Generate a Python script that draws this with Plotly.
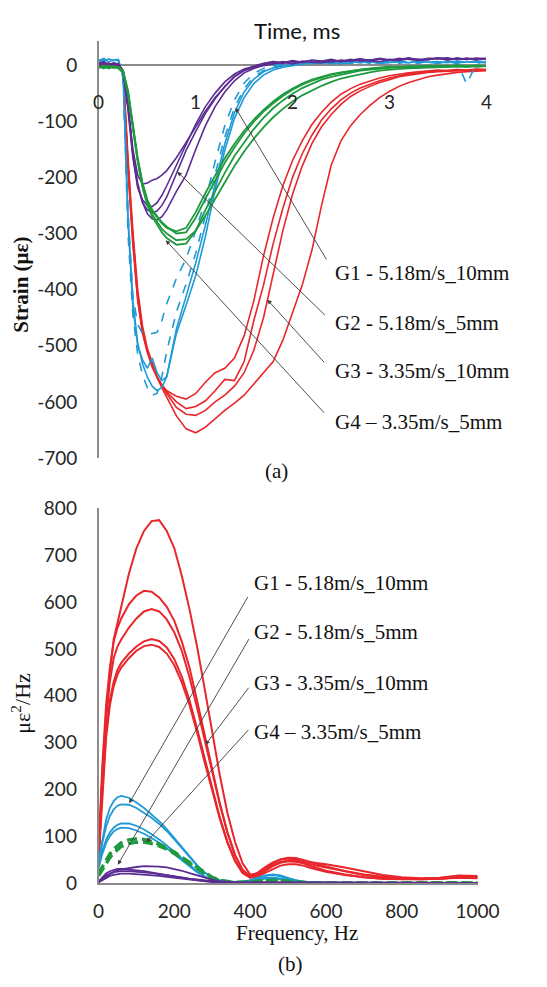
import plotly.graph_objects as go

# ---------------- (a) strain histories ----------------
time_ms = [0, 0.05, 0.1, 0.15, 0.2, 0.25, 0.3, 0.35, 0.4, 0.45, 0.5, 0.55, 0.6, 0.65, 0.7,
           0.8, 0.9, 1.0, 1.1, 1.2, 1.3, 1.4, 1.5, 1.6, 1.7, 1.8, 1.9, 2.0, 2.1, 2.2, 2.3,
           2.4, 2.5, 2.6, 2.7, 2.8, 2.9, 3.0, 3.1, 3.2, 3.3, 3.4, 3.5, 3.6, 3.7, 3.8, 3.9, 4.0]

# G1 - 5.18 m/s, 10 mm (blue; first two runs dashed)
g1_strain = [
    [8, 12, 6, 10, 9, -20, -260, -410, -462, -478, -480, -478, -476, -455, -425, -380, -345, -295, -240, -172, -108, -62, -32, -15, -6, -1, 2, 4, 1, 5, 3, 6, 2, 5, 7, 3, 6, 4, 8, 5, 3, 7, 4, 6, 3, 5, 7, 4],
    [6, 10, 8, 12, 7, -25, -300, -445, -515, -552, -575, -588, -585, -555, -510, -440, -390, -335, -268, -195, -128, -76, -42, -21, -10, -4, 0, 3, 5, 2, 6, 4, 7, 3, 5, 8, 4, 6, 3, 7, 5, 8, 4, 6, 5, -34, 3, 6],
    [9, 7, 11, 8, 10, -22, -280, -430, -500, -525, -540, -522, -548, -562, -555, -470, -412, -352, -285, -210, -140, -85, -48, -25, -12, -5, -1, 2, 4, 3, 6, 2, 5, 7, 4, 6, 3, 8, 5, 4, 7, 5, 6, 4, 7, 5, 6, 4],
    [7, 10, 6, 9, 8, -18, -270, -420, -495, -532, -556, -572, -580, -574, -555, -478, -428, -375, -305, -222, -152, -95, -58, -33, -18, -9, -4, -1, 2, 4, 3, 5, 2, 6, 4, 7, 3, 5, 6, 4, 7, 5, 3, 6, 4, 5, 6, 4],
]
g1_dash = ["dash", "dash", "solid", "solid"]

# G2 - 5.18 m/s, 5 mm (purple)
g2_strain = [
    [3, 6, 1, 4, 2, -10, -70, -150, -196, -212, -210, -205, -202, -196, -188, -165, -138, -110, -82, -58, -38, -20, -9, -2, 3, 6, 4, 8, 5, 9, 7, 10, 6, 9, 11, 8, 12, 9, 10, 13, 8, 11, 12, 9, 13, 10, 12, 11],
    [0, 4, -2, 3, 1, -12, -75, -160, -215, -245, -258, -263, -260, -250, -235, -192, -152, -118, -86, -60, -38, -21, -10, -4, 1, 3, 6, 2, 7, 5, 4, 8, 6, 10, 7, 9, 11, 8, 12, 10, 9, 12, 11, 13, 10, 12, 11, 12],
    [2, -1, 3, 0, 2, -11, -72, -155, -210, -245, -265, -274, -276, -270, -258, -225, -196, -150, -108, -74, -48, -28, -14, -6, -1, 2, 5, 3, 6, 8, 5, 9, 7, 8, 10, 7, 11, 9, 8, 12, 10, 9, 13, 11, 10, 12, 9, 11],
    [1, 3, 0, 2, -1, -12, -80, -165, -218, -240, -250, -252, -245, -232, -215, -178, -140, -105, -74, -50, -30, -16, -7, -2, 2, 5, 3, 7, 4, 8, 6, 5, 9, 7, 10, 8, 6, 10, 9, 11, 8, 10, 12, 9, 11, 10, 12, 10],
]

# G3 - 3.35 m/s, 10 mm (red)
g3_strain = [
    [2, -3, 4, -2, 1, -15, -190, -320, -420, -478, -512, -538, -556, -570, -580, -590, -595, -585, -565, -548, -540, -522, -482, -420, -340, -272, -215, -170, -135, -106, -84, -66, -52, -42, -34, -28, -23, -19, -16, -14, -12, -11, -9, -10, -8, -9, -7, -8],
    [-1, 3, -4, 2, -2, -12, -175, -305, -410, -472, -508, -535, -555, -570, -582, -600, -612, -608, -598, -580, -560, -562, -528, -455, -392, -318, -255, -200, -158, -125, -98, -78, -62, -50, -41, -34, -28, -23, -19, -16, -14, -12, -11, -10, -9, -10, -8, -9],
    [0, -2, 3, -1, 2, -10, -165, -295, -400, -465, -505, -532, -556, -575, -592, -625, -648, -655, -645, -630, -615, -602, -588, -568, -548, -528, -490, -442, -392, -330, -250, -178, -135, -108, -88, -72, -58, -47, -38, -31, -26, -21, -18, -15, -13, -12, -11, -10],
    [1, 2, -2, 3, 0, -12, -180, -312, -415, -475, -510, -536, -556, -572, -585, -610, -622, -624, -615, -600, -588, -572, -548, -508, -450, -370, -295, -230, -180, -140, -110, -88, -70, -56, -46, -38, -31, -26, -21, -18, -15, -13, -12, -11, -10, -9, -9, -8],
]

# G4 - 3.35 m/s, 5 mm (green)
g4_strain = [
    [-3, -6, -2, -5, -4, -12, -48, -108, -168, -212, -242, -260, -272, -282, -290, -296, -290, -262, -228, -196, -166, -140, -117, -97, -80, -65, -52, -42, -33, -26, -21, -16, -13, -10, -8, -6, -5, -3, -4, -2, -3, -1, -2, -3, 0, -2, -1, -2],
    [-5, -2, -6, -3, -5, -14, -52, -112, -172, -218, -250, -270, -285, -298, -308, -320, -318, -295, -258, -224, -192, -162, -137, -114, -94, -77, -63, -51, -41, -33, -26, -21, -17, -13, -10, -8, -6, -5, -4, -3, -4, -2, -3, -1, -2, -3, -1, -2],
    [-2, -4, -1, -5, -3, -10, -45, -105, -165, -210, -240, -258, -270, -280, -288, -300, -298, -272, -238, -205, -174, -147, -122, -101, -83, -68, -55, -44, -35, -28, -22, -17, -14, -11, -8, -7, -5, -4, -3, -4, -2, -3, -1, -2, -1, -3, -1, -2],
    [-4, -1, -5, -2, -6, -13, -50, -110, -170, -215, -246, -266, -280, -292, -300, -312, -310, -295, -268, -238, -208, -180, -154, -131, -111, -93, -78, -65, -54, -45, -37, -30, -24, -20, -16, -13, -10, -8, -7, -6, -5, -4, -4, -3, -3, -2, -3, -2],
]

strain_ticks = [0, -100, -200, -300, -400, -500, -600, -700]
time_ticks = [0, 1, 2, 3, 4]

# ---------------- (b) power spectral density ----------------
freq_hz = [0, 10, 20, 30, 40, 50, 60, 80, 100, 120, 140, 160, 180, 200, 220, 240, 260, 280, 300,
           320, 340, 360, 380, 400, 420, 440, 460, 480, 500, 520, 540, 560, 600, 650, 700, 750,
           800, 850, 900, 950, 1000]

g3_psd = [
    [60, 230, 360, 450, 520, 558, 590, 660, 715, 752, 773, 775, 752, 715, 655, 585, 505, 415, 320, 230, 150, 88, 42, 18, 20, 30, 42, 50, 54, 53, 49, 44, 35, 25, 17, 12, 9, 8, 9, 12, 11],
    [70, 250, 380, 460, 515, 545, 565, 595, 614, 624, 622, 610, 590, 560, 515, 460, 390, 315, 240, 170, 108, 60, 28, 15, 22, 34, 44, 50, 52, 50, 47, 44, 40, 33, 25, 17, 12, 10, 11, 16, 15],
    [55, 220, 350, 430, 480, 505, 520, 545, 565, 580, 585, 580, 563, 535, 495, 440, 375, 305, 235, 168, 108, 60, 27, 12, 16, 26, 36, 43, 46, 45, 42, 36, 26, 18, 12, 9, 8, 8, 9, 11, 10],
    [50, 200, 320, 390, 430, 455, 470, 490, 505, 516, 521, 517, 503, 478, 440, 390, 330, 265, 200, 140, 88, 48, 22, 12, 18, 28, 38, 45, 48, 47, 44, 40, 33, 25, 18, 13, 10, 9, 10, 14, 13],
    [45, 190, 310, 380, 420, 445, 460, 480, 496, 506, 509, 504, 490, 465, 428, 380, 322, 258, 195, 137, 86, 47, 21, 11, 14, 22, 30, 37, 40, 40, 37, 32, 24, 17, 12, 9, 8, 8, 9, 12, 12],
]
g1_psd = [
    [45, 95, 135, 160, 175, 183, 186, 182, 172, 160, 147, 132, 115, 96, 76, 56, 38, 22, 11, 5, 2, 1, 2, 5, 10, 15, 17, 14, 9, 5, 2, 1, 0, 0, 0, 0, 0, 0, 0, 0, 0],
    [40, 85, 120, 143, 157, 165, 168, 167, 160, 150, 139, 126, 111, 93, 74, 55, 37, 22, 12, 6, 3, 2, 3, 6, 11, 16, 18, 16, 11, 6, 3, 1, 0, 0, 0, 0, 0, 0, 0, 0, 0],
    [35, 68, 92, 108, 118, 124, 127, 127, 122, 114, 104, 93, 80, 66, 52, 38, 25, 14, 7, 3, 1, 1, 2, 4, 8, 11, 12, 10, 7, 4, 2, 1, 0, 0, 0, 0, 0, 0, 0, 0, 0],
    [30, 62, 85, 100, 110, 115, 118, 117, 112, 105, 96, 86, 74, 61, 48, 35, 23, 13, 6, 3, 1, 1, 2, 3, 6, 9, 10, 8, 5, 3, 1, 1, 0, 0, 0, 0, 0, 0, 0, 0, 0],
]
g4_psd = [
    [20, 35, 50, 62, 72, 80, 86, 92, 94, 93, 89, 83, 75, 66, 55, 44, 32, 21, 12, 6, 3, 1, 1, 2, 3, 5, 6, 5, 3, 2, 1, 0, 0, 0, 0, 0, 0, 0, 0, 0, 0],
    [15, 28, 42, 54, 64, 72, 78, 84, 87, 87, 84, 79, 72, 63, 53, 42, 31, 20, 11, 5, 2, 1, 1, 2, 3, 4, 5, 4, 3, 2, 1, 0, 0, 0, 0, 0, 0, 0, 0, 0, 0],
]
g2_psd = [
    [2, 8, 14, 19, 23, 27, 29, 32, 34, 36, 36, 35, 33, 30, 26, 21, 16, 11, 7, 4, 2, 1, 1, 1, 0, 0, 0, 0, 0, 0, 0, 0, 0, 0, 0, 0, 0, 0, 0, 0, 0],
    [3, 12, 20, 25, 28, 30, 30, 29, 27, 25, 22, 19, 16, 13, 10, 8, 6, 4, 2, 1, 1, 0, 0, 0, 0, 0, 0, 0, 0, 0, 0, 0, 0, 0, 0, 0, 0, 0, 0, 0, 0],
    [2, 9, 16, 20, 23, 24, 25, 25, 24, 23, 21, 19, 17, 14, 12, 9, 7, 5, 3, 2, 1, 0, 0, 0, 0, 0, 0, 0, 0, 0, 0, 0, 0, 0, 0, 0, 0, 0, 0, 0, 0],
    [1, 6, 11, 15, 17, 19, 20, 20, 19, 18, 17, 15, 13, 11, 9, 7, 5, 4, 2, 1, 1, 0, 0, 0, 0, 0, 0, 0, 0, 0, 0, 0, 0, 0, 0, 0, 0, 0, 0, 0, 0],
]
psd_ticks = [0, 100, 200, 300, 400, 500, 600, 700, 800]
freq_ticks = [0, 200, 400, 600, 800, 1000]

group_names = ["G1 - 5.18m/s_10mm", "G2 - 5.18m/s_5mm", "G3 - 3.35m/s_10mm", "G4 \u2013 3.35m/s_5mm"]

RED = "#e8262b"
BLUE = "#1f9ad6"
PURPLE = "#5b2d92"
GREEN = "#1f9a3f"
AXIS = "#8c8c8c"
ARROW = "#3c3c3c"

W, H = 547, 987
SANS = "Lato"
SERIF = "Liberation Serif, Times New Roman, serif"

fig = go.Figure()


def add_lines(xs, series, color, width, xa, ya, dashes=None):
    for i, ys in enumerate(series):
        fig.add_trace(go.Scatter(
            x=xs, y=ys, mode="lines", xaxis=xa, yaxis=ya, showlegend=False,
            line=dict(color=color, width=width, dash=(dashes[i] if dashes else "solid")),
            hoverinfo="skip"))


# strain traces
add_lines(time_ms, g3_strain, RED, 1.6, "x", "y")
add_lines(time_ms, g1_strain, BLUE, 1.6, "x", "y", g1_dash)
add_lines(time_ms, g2_strain, PURPLE, 1.6, "x", "y")
add_lines(time_ms, g4_strain, GREEN, 1.8, "x", "y")

# spectra
add_lines(freq_hz, g3_psd, RED, 2.0, "x2", "y2")
add_lines(freq_hz, g1_psd, BLUE, 1.8, "x2", "y2")
add_lines(freq_hz, g4_psd, GREEN, 3.4, "x2", "y2", ["10px,5px", "10px,5px"])
add_lines(freq_hz, g2_psd, PURPLE, 1.8, "x2", "y2")


def px_x(p):
    return p / W


def px_y(p):
    return 1 - p / H


tick_font = dict(family=SANS, size=19, color="#262626")

fig.update_layout(
    width=W, height=H, autosize=False,
    margin=dict(l=0, r=0, t=0, b=0),
    paper_bgcolor="white", plot_bgcolor="white",
    showlegend=False,
    xaxis=dict(domain=[px_x(98), px_x(506)], range=[0, 4], anchor="y",
               showgrid=False, zeroline=False, showline=False, showticklabels=False),
    yaxis=dict(domain=[px_y(456.7), px_y(29.3)], range=[-700, 43.5], anchor="x",
               showgrid=False, zeroline=True, zerolinecolor=AXIS, zerolinewidth=1.6,
               showline=True, linecolor=AXIS, linewidth=1.6, ticks="",
               tickvals=strain_ticks, ticktext=[str(v) for v in strain_ticks],
               tickfont=tick_font, ticklabelstandoff=16),
    xaxis2=dict(domain=[px_x(97.5), px_x(497)], range=[0, 1000], anchor="y2",
                showgrid=False, zeroline=False, showline=True, linecolor=AXIS, linewidth=1.6,
                ticks="", tickvals=freq_ticks, ticktext=[str(v) for v in freq_ticks],
                tickfont=tick_font, ticklabelstandoff=10),
    yaxis2=dict(domain=[px_y(891.7), px_y(508.3)], range=[0, 800], anchor="x2",
                showgrid=False, zeroline=False, showline=True, linecolor=AXIS, linewidth=1.6,
                ticks="", tickvals=psd_ticks, ticktext=[str(v) for v in psd_ticks],
                tickfont=tick_font, ticklabelstandoff=16),
)

ann = []
# time tick labels sit below the zero line
for k in time_ticks:
    ann.append(dict(x=k, y=0, xref="x", yref="y", yshift=-36, text=str(k), showarrow=False,
                    font=tick_font, xanchor="center", yanchor="middle"))

serif_font = dict(family=SERIF, size=21, color="#111111")

ann += [
    dict(x=px_x(307), y=px_y(19), xref="paper", yref="paper", text="Time, ms", showarrow=False,
         font=dict(family=SANS, size=22, color="#111111"), xanchor="center", yanchor="middle"),
    dict(x=px_x(16), y=px_y(279), xref="paper", yref="paper", text="Strain (\u03bc\u03b5)",
         showarrow=False, textangle=-90,
         font=dict(family=SERIF, size=21, color="#111111", weight="bold"),
         xanchor="center", yanchor="middle"),
    dict(x=px_x(285), y=px_y(470), xref="paper", yref="paper", text="(a)", showarrow=False,
         font=serif_font, xanchor="center", yanchor="middle"),
    dict(x=px_x(307), y=px_y(943), xref="paper", yref="paper", text="Frequency, Hz", showarrow=False,
         font=serif_font, xanchor="center", yanchor="middle"),
    dict(x=px_x(300), y=px_y(975), xref="paper", yref="paper", text="(b)", showarrow=False,
         font=serif_font, xanchor="center", yanchor="middle"),
    dict(x=px_x(15), y=px_y(708), xref="paper", yref="paper", text="\u03bc\u03b5<sup>2</sup>/Hz",
         showarrow=False, textangle=-90, font=dict(family=SERIF, size=22, color="#111111"),
         xanchor="center", yanchor="middle"),
]

# group labels with leader arrows, panel (a)
top_label_y = [267, 318, 368, 420]
top_heads = [(1.41, -76), (0.81, -190), (1.74, -418), (0.69, -312)]
top_tails = [(2.36, -349), (2.35, -448), (2.34, -532), (2.34, -622)]
for name, ly, (hx, hy), (tx, ty) in zip(group_names, top_label_y, top_heads, top_tails):
    ann.append(dict(x=px_x(345), y=px_y(ly), xref="paper", yref="paper", text=name,
                    showarrow=False, font=serif_font, xanchor="left", yanchor="middle"))
    ann.append(dict(x=hx, y=hy, xref="x", yref="y", ax=tx, ay=ty, axref="x", ayref="y",
                    text="", showarrow=True, arrowhead=2, arrowsize=1, arrowwidth=0.9,
                    arrowcolor=ARROW, standoff=0))

# group labels with leader arrows, panel (b)
bot_label_y = [585, 635, 687, 737]
bot_heads = [(81, 170), (51, 39), (282, 295), (126, 87)]
bot_tails = [(396, 614), (399, 524), (399, 420), (399, 330)]
for name, ly, (hx, hy), (tx, ty) in zip(group_names, bot_label_y, bot_heads, bot_tails):
    ann.append(dict(x=px_x(259), y=px_y(ly), xref="paper", yref="paper", text=name,
                    showarrow=False, font=serif_font, xanchor="left", yanchor="middle"))
    ann.append(dict(x=hx, y=hy, xref="x2", yref="y2", ax=tx, ay=ty, axref="x2", ayref="y2",
                    text="", showarrow=True, arrowhead=2, arrowsize=1, arrowwidth=0.9,
                    arrowcolor=ARROW, standoff=0))

fig.update_layout(annotations=ann)

fig.write_html("out.html")
